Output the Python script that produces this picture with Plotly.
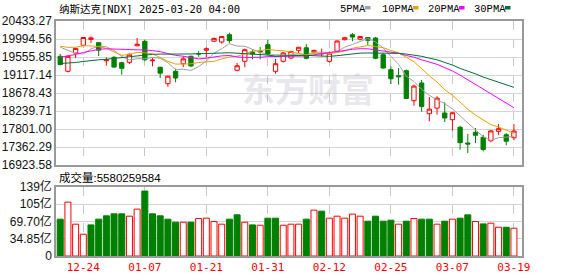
import plotly.graph_objects as go
import pandas as pd

# ---------------- data ----------------
dates = ["12-19", "12-20", "12-23", "12-24", "12-26", "12-27", "12-30", "12-31",
         "01-02", "01-03", "01-06", "01-07", "01-08", "01-10", "01-13", "01-14",
         "01-15", "01-16", "01-17", "01-21", "01-22", "01-23", "01-24", "01-27",
         "01-28", "01-29", "01-30", "01-31", "02-03", "02-04", "02-05", "02-06",
         "02-07", "02-10", "02-11", "02-12", "02-13", "02-14", "02-18", "02-19",
         "02-20", "02-21", "02-24", "02-25", "02-26", "02-27", "02-28", "03-03",
         "03-04", "03-05", "03-06", "03-07", "03-10", "03-11", "03-12", "03-13",
         "03-14", "03-17", "03-18", "03-19"]

# closes before the first visible bar (needed for the moving averages)
prior_closes = [19269.46, 19286.78, 19298.76, 19281.40, 19230.74, 19107.65, 18680.12,
                18791.81, 18987.47, 18966.14, 18972.42, 19003.65, 19054.84, 19174.30,
                19060.48, 19218.17, 19403.95, 19480.91, 19735.12, 19700.26, 19859.77,
                19736.69, 19687.24, 20034.89, 19902.84, 19926.72, 20173.89, 20109.06,
                19392.69]

opens = [19573, 19207, 19653, 19841, 19985, 19905, 19465, 19548, 19417, 19427,
         19830, 19938, 19465, 19305, 18905, 19207, 19392, 19573, 19640, 19720,
         19940, 19921, 20100, 19232, 19451, 19680, 19700, 19856, 19207, 19451,
         19531, 19719, 19780, 19680, 19630, 19451, 19695, 19977, 20100, 19990,
         20030, 20019, 19612, 19247, 19100, 19222, 18491, 18922, 18174, 18310,
         18191, 18028, 17843, 17460, 17720, 17599, 17516, 17745, 17662, 17588]

highs = [19630, 19590, 19780, 20040, 20060, 19910, 19548, 19580, 19440, 19640,
         20020, 19978, 19530, 19320, 19100, 19271, 19573, 19590, 19700, 19792,
         20030, 20060, 20148, 19410, 19760, 19740, 19800, 19978, 19510, 19680,
         19700, 19800, 19870, 19740, 19760, 19690, 19960, 20045, 20140, 20070,
         20040, 20040, 19650, 19330, 19287, 19250, 18880, 18995, 18581, 18600,
         18452, 18220, 17880, 17680, 17826, 17660, 17780, 17922, 17703, 17922]

lows = [19350, 19180, 19530, 19830, 19900, 19580, 19344, 19290, 19125, 19385,
        19815, 19451, 19330, 19044, 18830, 18939, 19312, 19310, 19560, 19548,
        19930, 19880, 19898, 19207, 19305, 19500, 19500, 19600, 19150, 19420,
        19500, 19650, 19500, 19640, 19570, 19420, 19680, 19960, 19940, 19960,
        19850, 19500, 19270, 18897, 18880, 18540, 18369, 18223, 17989, 18150,
        17970, 17760, 17296, 17216, 17460, 17255, 17480, 17650, 17404, 17525]

closes = [19372.77, 19572.60, 19764.89, 20031.13, 20020.36, 19722.03, 19486.79, 19310.79,
          19280.79, 19621.68, 19864.98, 19489.68, 19478.88, 19161.63, 19088.10, 19044.39,
          19511.23, 19338.29, 19630.20, 19756.78, 20009.34, 20053.68, 19954.30, 19341.83,
          19733.59, 19632.32, 19681.75, 19627.44, 19391.96, 19654.02, 19692.33, 19791.99,
          19523.40, 19714.27, 19643.86, 19649.95, 19945.64, 20026.77, 20041.26, 20056.25,
          19962.36, 19524.01, 19286.93, 19026.39, 19075.26, 18544.42, 18847.28, 18350.19,
          18285.16, 18552.73, 18069.26, 18196.22, 17468.32, 17436.10, 17648.45, 17303.01,
          17754.09, 17808.66, 17504.12, 17750.79]

volumes_yi = [74.1, 108.4, 64.0, 43.8, 62.6, 74.1, 80.8, 84.8, 84.8, 80.1,
              94.3, 130.6, 84.8, 80.8, 74.1, 68.0, 68.0, 68.0, 75.4, 76.1,
              69.4, 64.0, 74.1, 82.8, 68.0, 62.6, 61.9, 76.1, 76.1, 61.9,
              64.0, 64.0, 74.1, 92.2, 90.2, 76.1, 80.1, 76.1, 84.2, 80.1,
              70.0, 80.1, 70.0, 72.0, 64.0, 70.0, 75.4, 74.1, 74.1, 64.0,
              70.0, 74.1, 76.1, 82.8, 69.4, 64.6, 66.0, 57.9, 57.9, 55.80]

tick_dates = ["12-24", "01-07", "01-21", "01-31", "02-12", "02-25", "03-07", "03-19"]
price_ticks = [16923.58, 17362.29, 17801.00, 18239.71, 18678.43,
               19117.14, 19555.85, 19994.56, 20433.27]
vol_ticks = [0, 34.85, 69.70, 104.55, 139.40]
vol_ticktext = ["0", "34.85亿", "69.70亿", "105亿", "139亿"]

title_text = "纳斯达克[NDX] 2025-03-20 04:00"
volume_text = "成交量:5580259584"
ma_periods = [5, 10, 20, 30]
ma_names = ["5PMA", "10PMA", "20PMA", "30PMA"]

# ---------------- styles ----------------
RED = "#ff0000"
GREEN = "#008000"
MA_COLORS = ["#a0a0a0", "#f0a000", "#ff00ff", "#006f3a"]
GRID = "#d4d4d4"
FRAME = "#999999"

W, H = 578, 276
ML, MR, MT, MB = 56, 56, 21, 20
PW, PH = W - ML - MR, H - MT - MB


def px(xp):
    return (xp - ML) / PW


def py(yp):
    return (H - MB - yp) / PH


all_closes = pd.Series(prior_closes + closes)
n_prior = len(prior_closes)

fig = go.Figure()

fig.add_trace(go.Candlestick(
    x=dates, open=opens, high=highs, low=lows, close=closes,
    increasing=dict(line=dict(color=RED, width=1), fillcolor="white"),
    decreasing=dict(line=dict(color=GREEN, width=1), fillcolor=GREEN),
    whiskerwidth=0, xaxis="x", yaxis="y", showlegend=False, hoverinfo="skip"))

for p, name, col in zip(ma_periods, ma_names, MA_COLORS):
    ma = all_closes.rolling(p).mean().iloc[n_prior:].tolist()
    fig.add_trace(go.Scatter(x=dates, y=ma, mode="lines", name=name,
                             line=dict(color=col, width=1), xaxis="x", yaxis="y",
                             showlegend=False, hoverinfo="skip"))

prev = [prior_closes[-1]] + closes[:-1]
up = [c >= pc for c, pc in zip(closes, prev)]
fig.add_trace(go.Bar(
    x=dates, y=volumes_yi,
    marker=dict(color=["white" if u else GREEN for u in up],
                line=dict(color=[RED if u else GREEN for u in up], width=1)),
    xaxis="x2", yaxis="y2", showlegend=False, hoverinfo="skip"))

main_bottom = py(165)
vol_top = py(186.7)

common_x = dict(type="category", range=[-0.55, 60.05], tickmode="array",
                tickvals=tick_dates, ticktext=tick_dates, showgrid=True,
                gridcolor="#c8c8c8", griddash="dash", gridwidth=1, zeroline=False,
                showline=True, mirror=True, linecolor=FRAME, linewidth=1.5,
                ticks="", automargin=False, fixedrange=True)

fig.update_layout(
    width=W, height=H, template="none",
    margin=dict(l=ML, r=MR, t=MT, b=MB, pad=0),
    paper_bgcolor="white", plot_bgcolor="white",
    bargap=0.22, boxgap=0.2,
    xaxis=dict(common_x, anchor="y", domain=[0, 1], showticklabels=False,
               rangeslider=dict(visible=False)),
    xaxis2=dict(common_x, anchor="y2", domain=[0, 1], matches="x",
                showticklabels=True,
                tickfont=dict(family="DejaVu Sans Mono", size=11, color=RED)),
    yaxis=dict(domain=[main_bottom, 1], range=[price_ticks[0], price_ticks[-1]],
               tickmode="array", tickvals=price_ticks,
               ticktext=["%.2f" % v for v in price_ticks],
               tickfont=dict(family="Liberation Sans", size=12, color="#111111"),
               showgrid=True, gridcolor=GRID, gridwidth=1, zeroline=False,
               showline=True, mirror=True, linecolor=FRAME, linewidth=1.5,
               ticks="", automargin=False, fixedrange=True),
    yaxis2=dict(domain=[0, vol_top], range=[vol_ticks[0], vol_ticks[-1]],
                tickmode="array", tickvals=vol_ticks, ticktext=vol_ticktext,
                tickfont=dict(family="Liberation Sans, Noto Sans CJK SC", size=12,
                              color="#111111"),
                showgrid=True, gridcolor=GRID, gridwidth=1, zeroline=False,
                showline=True, mirror=True, linecolor=FRAME, linewidth=1.5,
                ticks="", automargin=False, fixedrange=True),
)

annotations = [
    dict(text=title_text, x=px(57), y=py(8.5), xref="paper", yref="paper",
         xanchor="left", yanchor="middle", showarrow=False,
         font=dict(family="DejaVu Sans Mono, Noto Sans CJK SC", size=10.5, color="#000000")),
    dict(text=volume_text, x=px(57), y=py(177), xref="paper", yref="paper",
         xanchor="left", yanchor="middle", showarrow=False,
         font=dict(family="Liberation Sans, Noto Sans CJK SC", size=11.5, color="#000000")),
    dict(text="东方财富", x=px(308), y=py(88), xref="paper", yref="paper",
         xanchor="center", yanchor="middle", showarrow=False,
         font=dict(family="Noto Sans CJK SC", size=33, color="rgba(190,190,200,0.35)",
                   weight="bold")),
]

legend_text_x = [338, 380, 426, 472]
legend_box_x = [365, 413, 459, 505]
shapes = []
for name, col, tx, bx in zip(ma_names, MA_COLORS, legend_text_x, legend_box_x):
    annotations.append(dict(text=name, x=px(tx), y=py(8.5), xref="paper", yref="paper",
                            xanchor="left", yanchor="middle", showarrow=False,
                            font=dict(family="Liberation Mono", size=10.5, color="#000000")))
    shapes.append(dict(type="rect", xref="paper", yref="paper",
                       x0=px(bx), x1=px(bx + 5.5), y0=py(9.5), y1=py(6),
                       fillcolor=col, line=dict(width=0)))

fig.update_layout(annotations=annotations, shapes=shapes)

fig.write_html("out.html")
